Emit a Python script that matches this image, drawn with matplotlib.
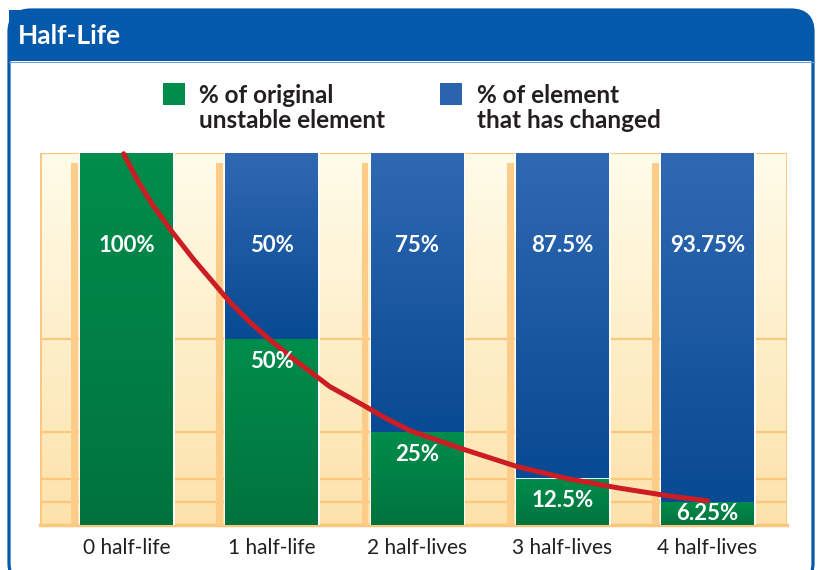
import numpy as np
import matplotlib.pyplot as plt
from matplotlib.colors import LinearSegmentedColormap
from matplotlib.patches import FancyBboxPatch, Rectangle

# data
labels = ["0 half-life", "1 half-life", "2 half-lives", "3 half-lives", "4 half-lives"]
original_pct = [100, 50, 25, 12.5, 6.25]
changed_pct = [0, 50, 75, 87.5, 93.75]
legend_labels = ["% of original\nunstable element", "% of element\nthat has changed"]
# red decay curve (half-lives, %)
curve_x = [-0.02, 0.07, 0.18, 0.32, 0.46, 0.58, 0.71, 0.85, 0.99, 1.17, 1.40,
           1.63, 1.79, 1.95, 2.30, 2.69, 3.03, 3.38, 3.72, 4.00]
curve_y = [99.8, 93.0, 86.0, 78.5, 71.5, 66.0, 60.0, 54.5, 49.7, 44.0, 37.2,
           32.2, 28.6, 25.4, 20.6, 15.7, 12.5, 10.0, 7.9, 6.5]

plt.rcParams['font.family'] = ['Lato', 'DejaVu Sans']

FRAME_BLUE = '#0459AA'
GREEN_TOP, GREEN_BOT = '#008D4C', '#00733D'
BLUE_TOP, BLUE_BOT = '#3069B2', '#084A93'
ORANGE = '#FCC67C'

fig = plt.figure(figsize=(8.2, 5.7), dpi=100)

# decoration layer in pixel coordinates
bg = fig.add_axes([0, 0, 1, 1])
bg.set_xlim(0, 820)
bg.set_ylim(570, 0)
bg.axis('off')

bg.add_patch(FancyBboxPatch((9, 10), 804, 575, boxstyle="round,pad=0,rounding_size=22",
                            facecolor='white', edgecolor=FRAME_BLUE, linewidth=2.3))
bg.add_patch(FancyBboxPatch((9, 10), 804, 51, boxstyle="round,pad=0,rounding_size=22",
                            facecolor=FRAME_BLUE, edgecolor='none'))
bg.add_patch(Rectangle((9, 32), 804, 29, facecolor=FRAME_BLUE, edgecolor='none'))
bg.add_patch(Rectangle((9, 10), 40, 30, facecolor=FRAME_BLUE, edgecolor='none'))
bg.plot([9, 813], [61.5, 61.5], color='#6E9BD0', lw=0.8)
bg.text(18, 36, "Half-Life", color='white', fontsize=19, fontweight='bold', va='center', ha='left')

# legend
for (sx, tx), lab, c in zip([(163, 199), (440, 477)], legend_labels, [GREEN_TOP, '#2B64AD']):
    bg.add_patch(Rectangle((sx, 83), 22, 22, facecolor=c, edgecolor='none'))
    bg.text(tx, 108, lab, fontsize=17.5, fontweight='bold', color='#231F20',
            va='center', ha='left', linespacing=1.12)

# main chart
ax = fig.add_axes([40 / 820, 45 / 570, 747 / 820, 372 / 570])
x = np.arange(len(labels))
xmin, xmax = (40 - 126.5) / 145.25, (787 - 126.5) / 145.25
ax.set_xlim(xmin, xmax)
ax.set_ylim(0, 100)

cream = LinearSegmentedColormap.from_list('cream', ['#FDE2AA', '#FFFCEA'])
ax.imshow(np.linspace(0, 1, 256).reshape(-1, 1), extent=(xmin, xmax, 0, 100), origin='lower',
          aspect='auto', cmap=cream, zorder=0)
for v in original_pct:
    ax.axhline(v, color=ORANGE, lw=1.6, zorder=1)
ax.axhline(0, color=ORANGE, lw=2.5, zorder=1, clip_on=False)
ax.axvline(xmin, color=ORANGE, lw=2, zorder=1)
ax.axvline(xmax, color=ORANGE, lw=2, zorder=1)

w = 0.64
# darker shadow strips to the left of every bar
ax.bar(x - w / 2 - 0.038, 97.4, width=0.048, color='#FDCC88', zorder=1.5)

green_bars = ax.bar(x, original_pct, width=w, color=GREEN_TOP, edgecolor='white', lw=2, zorder=2)
blue_bars = ax.bar(x, changed_pct, width=w, bottom=original_pct, color=BLUE_TOP,
                   edgecolor='white', lw=2, zorder=2)

grad = np.linspace(0, 1, 256).reshape(-1, 1)
for bars, top, bot in [(green_bars, GREEN_TOP, GREEN_BOT), (blue_bars, BLUE_TOP, BLUE_BOT)]:
    cm = LinearSegmentedColormap.from_list('g', [bot, top])
    for p in bars:
        if p.get_height() <= 0:
            continue
        x0, y0 = p.get_x(), p.get_y()
        im = ax.imshow(grad, extent=(x0, x0 + p.get_width(), y0, y0 + p.get_height()),
                       origin='lower', aspect='auto', cmap=cm, zorder=2.5)
        im.set_clip_path(p)

ax.set_xlim(xmin, xmax)
ax.set_ylim(0, 100)

# value labels
for i, (g, b) in enumerate(zip(original_pct, changed_pct)):
    if b > 0:
        ax.text(i, 75, f"{b:g}%", color='white', fontsize=16, fontweight='bold',
                ha='center', va='center', zorder=5)
    gy = 75 if g == 100 else max(g - 6, g / 2)
    ax.text(i, gy, f"{g:g}%", color='white', fontsize=16, fontweight='bold',
            ha='center', va='center', zorder=5)

ax.plot(curve_x, curve_y, color='#CC1C24', lw=3.6, solid_capstyle='round',
        solid_joinstyle='round', zorder=4, clip_on=False)

ax.set_xticks(x)
ax.set_xticklabels(labels, fontsize=15, color='#231F20')
ax.tick_params(length=0, pad=9)
ax.set_yticks([])
for s in ax.spines.values():
    s.set_visible(False)

fig.savefig('out.png', dpi=100)
